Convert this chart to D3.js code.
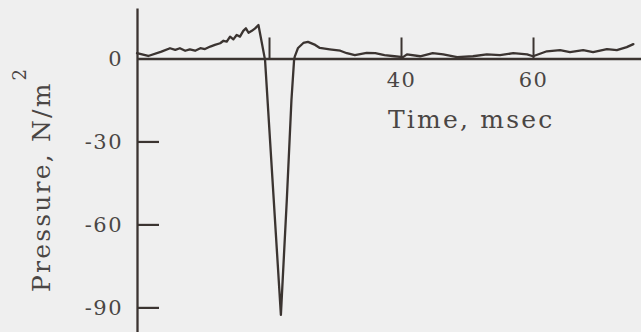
<!DOCTYPE html>
<html>
<head>
<meta charset="utf-8">
<script src="https://cdn.jsdelivr.net/npm/d3@7"></script>
<style>
  html, body { margin: 0; padding: 0; background: #efefef; }
  svg { display: block; }
  text { font-family: "DejaVu Serif", serif; fill: #4a4644; }
</style>
</head>
<body>
<svg id="chart" width="641" height="332"></svg>
<script>
// Pressure trace: time in msec, pressure in N/m^2
const timeMs = [0, 1.7, 3.7, 5.0, 5.8, 6.5, 7.3, 8.0, 8.8, 9.6, 10.3, 11.1, 11.8, 12.6, 13.1, 13.6,
  14.1, 14.6, 15.1, 15.6, 16.1, 16.5, 16.9, 17.4, 17.9, 18.4, 19.4, 21.8, 22.7, 23.4, 23.8, 23.9,
  24.4, 25.2, 25.9, 27.0, 27.7, 29.2, 30.8, 31.8, 33.0, 34.8, 36.1, 37.5, 39.0, 40.3, 40.9, 42.9,
  44.8, 46.4, 48.5, 50.9, 53.0, 55.0, 57.0, 59.1, 60.0, 62.1, 64.1, 65.6, 67.6, 69.1, 71.2, 72.7,
  74.2, 75.2];
const pressure = [1.9, 0.9, 2.5, 3.7, 3.1, 3.7, 2.8, 3.3, 2.8, 3.7, 3.4, 4.3, 4.9, 5.5, 6.4, 6.1,
  7.9, 6.9, 8.5, 7.9, 10.0, 10.9, 9.3, 10.0, 10.9, 12.1, -0.5, -92.7, -51, -15, -0.5, 0.65,
  3.8, 5.6, 6.0, 4.9, 3.8, 3.3, 2.8, 1.9, 1.2, 2.0, 1.9, 1.2, 0.8, 0.5, 1.5, 0.8,
  1.9, 1.5, 0.5, 0.8, 1.5, 1.2, 1.9, 1.5, 0.8, 2.6, 3.0, 2.3, 3.0, 2.3, 3.4, 3.0,
  4.1, 5.2];

const xTicks = [20, 40, 60];
const xTickLabels = ["", "40", "60"];
const yTicks = [-90, -60, -30, 0];
const yTickLabels = ["-90", "-60", "-30", "0"];

const ink = "#3b3431";
const svg = d3.select("#chart");

const x = d3.scaleLinear().domain([0, 76.36]).range([137, 641]);
const y = d3.scaleLinear().domain([18.25, -98.9]).range([8, 332]);

// Vertical pressure axis, ticks pointing into the plot
const yAxis = d3.axisLeft(y)
  .tickValues(yTicks)
  .tickFormat((d, i) => yTickLabels[i])
  .tickSizeInner(-22)
  .tickSizeOuter(0)
  .tickPadding(14);

const gy = svg.append("g")
  .attr("transform", `translate(${x(0)},0)`)
  .call(yAxis);
gy.select(".domain").attr("stroke", ink).attr("stroke-width", 2.3);
gy.selectAll(".tick line").attr("stroke", ink).attr("stroke-width", 2.2)
  .attr("display", d => d === 0 ? "none" : null);
gy.selectAll(".tick text")
  .attr("font-family", "DejaVu Serif, serif")
  .attr("font-size", 21)
  .attr("letter-spacing", 1.5)
  .attr("fill", "#4a4644");

// Horizontal time axis along zero pressure
const xAxis = d3.axisBottom(x)
  .tickValues(xTicks)
  .tickFormat((d, i) => xTickLabels[i])
  .tickSizeInner(-21)
  .tickSizeOuter(0)
  .tickPadding(13.5);

const gx = svg.append("g")
  .attr("transform", `translate(0,${y(0)})`)
  .call(xAxis);
gx.select(".domain").attr("stroke", ink).attr("stroke-width", 2.6);
gx.selectAll(".tick line").attr("stroke", ink).attr("stroke-width", 2);
gx.selectAll(".tick text")
  .attr("font-family", "DejaVu Serif, serif")
  .attr("font-size", 21)
  .attr("letter-spacing", 1.5)
  .attr("fill", "#4a4644");

// Trace
const line = d3.line()
  .x((d, i) => x(timeMs[i]))
  .y(d => y(d))
  .curve(d3.curveLinear);

svg.append("path")
  .datum(pressure)
  .attr("fill", "none")
  .attr("stroke", ink)
  .attr("stroke-width", 2.3)
  .attr("stroke-linejoin", "round")
  .attr("stroke-linecap", "round")
  .attr("d", line);

// Axis titles
svg.append("text")
  .attr("x", 388)
  .attr("y", 128)
  .attr("font-size", 25)
  .attr("letter-spacing", 2.2)
  .text("Time, msec");

const yTitle = svg.append("text")
  .attr("transform", "translate(50,292) rotate(-90)")
  .attr("font-size", 25)
  .attr("letter-spacing", 2.2);
yTitle.append("tspan").text("Pressure, N/m");
yTitle.append("tspan")
  .attr("font-size", 18)
  .attr("dy", -24)
  .attr("dx", 1)
  .text("2");
</script>
</body>
</html>
